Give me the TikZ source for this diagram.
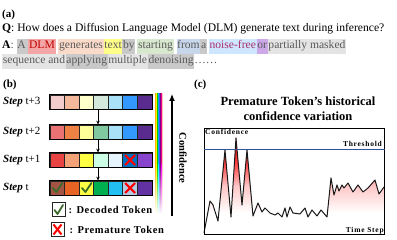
\documentclass[tikz,border=0pt]{standalone}
\usepackage{fontspec}
\setmainfont{Liberation Serif}
\usetikzlibrary{positioning,arrows.meta}
% token colours, one per row (r3 = step t+3 ... r0 = step t)
\definecolor{r3c1}{HTML}{F4CCCC}\definecolor{r3c2}{HTML}{F4B99B}\definecolor{r3c3}{HTML}{FFFFCC}
\definecolor{r3c4}{HTML}{D5E8DC}\definecolor{r3c5}{HTML}{A9E1F8}\definecolor{r3c6}{HTML}{3399FF}
\definecolor{r3c7}{HTML}{5B2C8F}
\definecolor{r2c1}{HTML}{EA7272}\definecolor{r2c2}{HTML}{EE8244}\definecolor{r2c3}{HTML}{FFFF99}
\definecolor{r2c4}{HTML}{80C8A0}\definecolor{r2c5}{HTML}{A9E1F8}\definecolor{r2c6}{HTML}{3399FF}
\definecolor{r2c7}{HTML}{5B2C8F}
\definecolor{r1c1}{HTML}{E84444}\definecolor{r1c2}{HTML}{F2A276}\definecolor{r1c3}{HTML}{FFFF44}
\definecolor{r1c4}{HTML}{CCFFE6}\definecolor{r1c5}{HTML}{E6F5FF}\definecolor{r1c6}{HTML}{0070C0}
\definecolor{r1c7}{HTML}{8844CC}
\definecolor{r0c1}{HTML}{A35444}\definecolor{r0c2}{HTML}{E86424}\definecolor{r0c3}{HTML}{FFFF44}
\definecolor{r0c4}{HTML}{00B050}\definecolor{r0c5}{HTML}{22C0F2}\definecolor{r0c6}{HTML}{B4CAE2}
\definecolor{r0c7}{HTML}{6232A2}
% highlight colours for (a)
\definecolor{hgray}{HTML}{C9C9C9}\definecolor{hlight}{HTML}{E4E4E4}
\definecolor{hpink}{HTML}{F4A6A6}\definecolor{hpeach}{HTML}{FADAC8}
\definecolor{hyellow}{HTML}{FFFF88}\definecolor{hgreen}{HTML}{D8E8CF}
\definecolor{hblue}{HTML}{C8D6EC}\definecolor{hsky}{HTML}{CFE6FF}
\definecolor{hviolet}{HTML}{CCA8E8}
\definecolor{txtgray}{HTML}{5A5A5A}\definecolor{dlmred}{HTML}{C00000}
\definecolor{noisered}{HTML}{A8306A}
\definecolor{okgreen}{HTML}{3A6B2A}\definecolor{thrblue}{HTML}{2F5597}
\newcommand{\hlw}[2]{{\setlength\fboxsep{0.7pt}\colorbox{#1}{\strut #2}}}
% fill under the confidence curve (path box = 25bp..75bp)
\pgfdeclareverticalshading{confshade}{100bp}{color(0bp)=(white); color(25bp)=(white);
  color(36bp)=(white); color(50bp)=(red!22); color(62bp)=(red!75); color(75bp)=(red!80!black);
  color(100bp)=(red!80!black)}
\tikzset{
  cell/.style={draw=black!85,line width=0.8pt,minimum width=14.57pt,
    minimum height=14pt,inner sep=0pt},
  steplbl/.style={font=\fontsize{11}{13}\selectfont,anchor=west,inner sep=0pt},
  legbox/.style={draw=black!85,line width=1pt,fill=white,minimum width=13pt,
    minimum height=14pt,inner sep=0pt},
  legtxt/.style={font=\fontsize{10.5}{12}\selectfont\bfseries\addfontfeatures{LetterSpace=6},inner sep=0pt},
  panel/.style={font=\fontsize{11}{13}\selectfont\bfseries,inner sep=0pt},
  plottxt/.style={font=\fontsize{7.5}{9}\selectfont\bfseries\addfontfeatures{LetterSpace=10},inner sep=1pt},
  tick/.style={okgreen,line width=1.8pt,line cap=round,line join=round},
  cross/.style={red,line width=2pt},
  qa/.style={anchor=base west,inner sep=0pt,font=\fontsize{11.6}{13}\selectfont},
}
\begin{document}
\begin{tikzpicture}[x=1pt,y=-1pt]
  \useasboundingbox (0,0) rectangle (397,240);
  % (a) question and answer
  \node[panel,anchor=base west] (pa) at (2,18) {(a)};
  \node[qa] (qline) at (2,32)
    {\textbf{Q}:\ How does a Diffusion Language Model (DLM) generate text during inference?};
  \node[qa,text=txtgray] (aline) at (2,49)
    {\textcolor{black}{\textbf{A}}:\ \hlw{hgray}{A\,}\hlw{hpink}{\textcolor{dlmred}{DLM}}
     \hlw{hpeach}{generates}\hlw{hyellow}{text}\hlw{hgray}{by}\,\hlw{hgreen}{starting}
     \hlw{hblue}{from}\hlw{hgray}{a}\,\hlw{hsky}{\textcolor{noisered}{noise-free}}\hlw{hviolet}{or}\hlw{hlight}{partially masked}};
  \node[qa,text=txtgray] (bline) at (2,64)
    {\hlw{hlight}{sequence and}\hlw{hgray}{applying}\hlw{hlight}{multiple}\hlw{hgray}{denoising}\dots\dots};
  % (b) decoding steps
  \node[panel,anchor=base west] (pb) at (3,88) {(b)};
  \foreach \row/\yy/\lbl in {3/102/t+3,2/132/t+2,1/160/t+1,0/188/t}{
    \node[steplbl] (lbl\row) at (3,\yy) {\textbf{\textit{Step}} \lbl};
    \foreach \c in {1,...,7}
      \node[cell,fill=r\row c\c] (r\row c\c) at ({50+14.57*(\c-0.5)},\yy) {};
    \draw[line width=1.3pt] (r\row c1.north west) rectangle (r\row c7.south east);
  }
  \foreach \a/\b in {3/2,2/1,1/0}
    \draw[-{Stealth[length=4pt,width=3.5pt]},line width=0.7pt]
      ([xshift=-3pt]r\a c4.south) -- ([xshift=-3pt]r\b c4.north);
  % ticks and crosses
  \draw[tick] ([shift={(-4.5,0)}]r0c1.center) -- ([shift={(-1,4)}]r0c1.center) -- ([shift={(5,-5)}]r0c1.center);
  \draw[tick] ([shift={(-4.5,0)}]r0c3.center) -- ([shift={(-1,4)}]r0c3.center) -- ([shift={(5,-5)}]r0c3.center);
  \foreach \n in {r1c6,r0c6}{
    \draw[cross] ([shift={(-5,-5)}]\n.center) -- ([shift={(5,5)}]\n.center);
    \draw[cross] ([shift={(-5,5)}]\n.center) -- ([shift={(5,-5)}]\n.center);
  }
  % rainbow bar
  \foreach \k/\col in {0/orange!60!yellow,1/yellow,2/green!80!black,3/cyan,4/blue!70,5/violet,6/magenta,7/pink}{
    \fill[\col] (155+\k,93) rectangle (156+\k,165);
    \shade[top color=\col,bottom color=white] (155+\k,165) rectangle (156+\k,214);
  }
  % confidence arrow
  \coordinate (cbot) at (172,216);
  \coordinate (ctop) at (172,94);
  \draw[-{Latex[length=7pt,width=6pt]},line width=1.2pt] (cbot) -- (ctop);
  \node[legtxt,font=\fontsize{10.5}{12}\selectfont\bfseries,rotate=-90] (conf) at (183,158) {Confidence};
  % legend
  \node[legbox] (leg1) at (58.5,210) {};
  \draw[tick] ([shift={(-4,0)}]leg1.center) -- ([shift={(-1,4)}]leg1.center) -- ([shift={(4.5,-5)}]leg1.center);
  \node[legtxt,right=3pt of leg1] (legt1) {: Decoded Token};
  \node[legbox] (leg2) at (57.5,229.5) {};
  \draw[cross] ([shift={(-4,-5)}]leg2.center) -- ([shift={(4,5)}]leg2.center);
  \draw[cross] ([shift={(-4,5)}]leg2.center) -- ([shift={(4,-5)}]leg2.center);
  \node[legtxt,right=5pt of leg2] (legt2) {: Premature Token};
  % (c) confidence history
  \node[panel,anchor=base west] (pc) at (194,88) {(c)};
  \node[panel,font=\fontsize{12.5}{15}\selectfont\bfseries,align=center] (ctitle) at (298,109)
    {Premature Token's historical\\confidence variation};
  \shade[shading=confshade]
    plot coordinates {(204,233) (210,201) (213,205) (218,221) (225,150) (231,217) (236,138)
      (242,205) (247,150) (253,216) (258,203) (262,212) (265,208) (270,213) (275,215)
      (278,213) (282,217) (285,208) (287,217) (290,207) (293,213) (300,214) (305,208)
      (308,217) (312,210) (317,216) (321,210) (327,217) (331,178) (334,195) (337,185)
      (339,191) (342,185) (344,188) (348,183) (353,192) (358,185) (363,192) (368,188)
      (375,180) (379,194) (384,187)} -- (384,234) -- (204,234) -- cycle;
  \draw[line width=1pt,black!90,line join=round]
    plot coordinates {(204,233) (210,201) (213,205) (218,221) (225,150) (231,217) (236,138)
      (242,205) (247,150) (253,216) (258,203) (262,212) (265,208) (270,213) (275,215)
      (278,213) (282,217) (285,208) (287,217) (290,207) (293,213) (300,214) (305,208)
      (308,217) (312,210) (317,216) (321,210) (327,217) (331,178) (334,195) (337,185)
      (339,191) (342,185) (344,188) (348,183) (353,192) (358,185) (363,192) (368,188)
      (375,180) (379,194) (384,187)};
  \node[draw,line width=0.9pt,minimum width=180pt,minimum height=106pt,anchor=north west,inner sep=0pt] (plotbox) at (204,128) {};
  \draw[thrblue,line width=0.9pt] (plotbox.west |- 0,149) -- (plotbox.east |- 0,149);
  \node[plottxt,anchor=north west] (ylbl) at (plotbox.north west) {Confidence};
  \node[plottxt,anchor=south east] (thr) at (383,148) {Threshold};
  \node[plottxt,anchor=south east] (xlbl) at (plotbox.south east) {Time Step};
\end{tikzpicture}
\end{document}
